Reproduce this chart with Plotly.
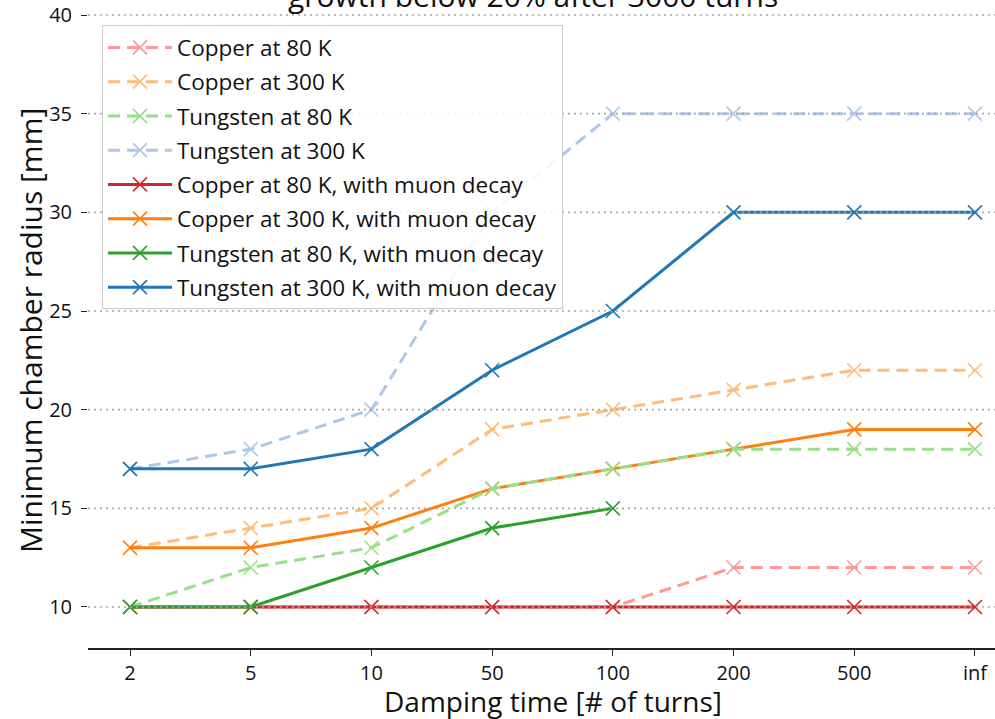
import plotly.graph_objects as go

# Damping time categories (number of turns)
damping = ["2", "5", "10", "50", "100", "200", "500", "inf"]

# Minimum chamber radius [mm]
cu80 = [10, 10, 10, 10, 10, 12, 12, 12]
cu300 = [13, 14, 15, 19, 20, 21, 22, 22]
w80 = [10, 12, 13, 16, 17, 18, 18, 18]
w300 = [17, 18, 20, 30, 35, 35, 35, 35]
cu80_decay = [10, 10, 10, 10, 10, 10, 10, 10]
cu300_decay = [13, 13, 14, 16, 17, 18, 19, 19]
w80_decay = [10, 10, 12, 14, 15, None, None, None]
w300_decay = [17, 17, 18, 22, 25, 30, 30, 30]

y_ticks = [10, 15, 20, 25, 30, 35, 40]

# (name, values, colour, dashed, legend position)
series = [
    ("Copper at 80 K", cu80, "#ff9896", True, 1),
    ("Copper at 80 K, with muon decay", cu80_decay, "#d62728", False, 5),
    ("Copper at 300 K", cu300, "#ffbb78", True, 2),
    ("Copper at 300 K, with muon decay", cu300_decay, "#ff7f0e", False, 6),
    ("Tungsten at 80 K", w80, "#98df8a", True, 3),
    ("Tungsten at 80 K, with muon decay", w80_decay, "#2ca02c", False, 7),
    ("Tungsten at 300 K", w300, "#aec7e8", True, 4),
    ("Tungsten at 300 K, with muon decay", w300_decay, "#1f77b4", False, 8),
]

fig = go.Figure()
for name, vals, color, dashed, rank in series:
    fig.add_trace(go.Scatter(
        x=damping, y=vals, name=name, mode="lines+markers",
        line=dict(color=color, width=3, dash="12px,7px" if dashed else "solid"),
        marker=dict(symbol="x-thin-open", size=14, color=color,
                    line=dict(color=color, width=1.6)),
        legendrank=rank, legendgroup=name,
    ))

# dotted horizontal grid drawn over the lines
for v in y_ticks:
    fig.add_shape(type="line", xref="paper", x0=0, x1=1, yref="y", y0=v, y1=v,
                  line=dict(color="#a8a8a8", width=1.6, dash="2px,4px"),
                  layer="above")

font = "Open Sans, Noto Sans, sans-serif"
ink = "#111111"

# title line sitting at the very top edge
fig.add_annotation(
    text="growth below 20% after 3000 turns", xref="paper", yref="paper",
    x=0.4906, y=1, xanchor="center", yanchor="bottom", yshift=-18,
    showarrow=False, font=dict(family=font, size=30, color=ink),
)
# axis titles
fig.add_annotation(
    text="Damping time [# of turns]", xref="paper", yref="paper",
    x=0.5127, y=-0.0818, xanchor="center", yanchor="middle",
    showarrow=False, font=dict(family=font, size=28, color=ink),
)
fig.add_annotation(
    text="Minimum chamber radius [mm]", xref="paper", yref="paper",
    x=-0.0628, y=0.4892, xanchor="center", yanchor="middle", textangle=-90,
    showarrow=False, font=dict(family=font, size=30, color=ink),
)

fig.update_layout(
    width=995, height=719,
    margin=dict(l=88, r=0, t=0, b=71),
    plot_bgcolor="white", paper_bgcolor="white",
    showlegend=True,
    legend=dict(
        x=0.0154, y=0.961, xanchor="left", yanchor="top",
        bgcolor="rgba(255,255,255,0.85)", bordercolor="#cccccc", borderwidth=1,
        font=dict(family=font, size=22.5, color=ink),
        tracegroupgap=2, itemwidth=64,
    ),
    xaxis=dict(
        type="category", range=[-0.348, 7.166],
        showgrid=False, zeroline=False,
        showline=True, linecolor="#222222", linewidth=1.5,
        ticks="outside", ticklen=6, tickcolor="#222222", tickwidth=1.2,
        ticklabelstandoff=0,
        tickfont=dict(family=font, size=20, color=ink),
    ),
    yaxis=dict(
        range=[7.922, 40.76], tickvals=y_ticks,
        showgrid=False, zeroline=False, showline=False,
        ticks="outside", ticklen=6, tickcolor="#222222", tickwidth=1.2,
        ticklabelstandoff=5,
        tickfont=dict(family=font, size=20, color=ink),
    ),
)

fig.write_html("out.html")
